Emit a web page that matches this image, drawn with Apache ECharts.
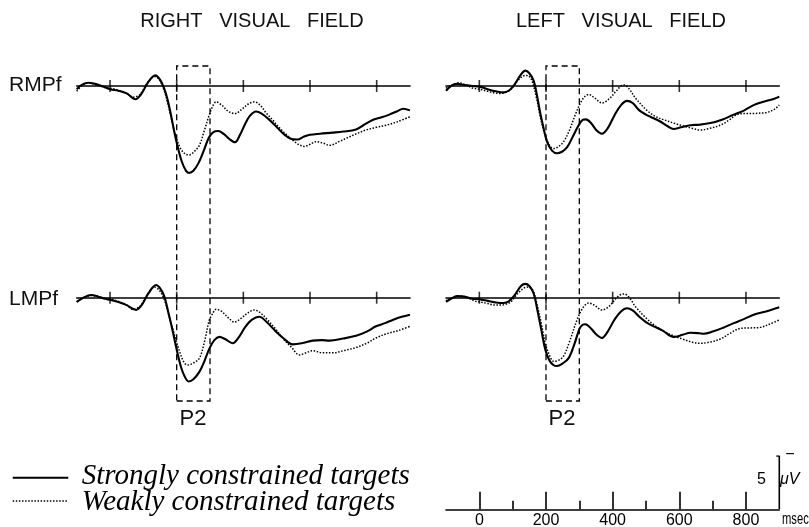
<!DOCTYPE html>
<html>
<head>
<meta charset="utf-8">
<script src="https://cdn.jsdelivr.net/npm/echarts@6/dist/echarts.min.js"></script>
<style>html,body{margin:0;padding:0;background:#fff}#c{width:809px;height:527px}</style>
</head>
<body>
<div id="c"></div>
<script>
// ---- Data: [time (ms), amplitude (µV, positive plotted downward)] ----
const rmpfRightStrong = [[-100,0.3],[-85,-0.1],[-65,-0.3],[-45,-0.2],[-25,0.0],[0,0.3],[25,0.45],[50,0.7],[76,1.25],[95,0.7],[115,-0.4],[136,-1.0],[150,-0.6],[162,0.2],[172,1.2],[182,2.6],[192,4.2],[202,5.6],[215,7.1],[228,8.0],[238,8.2],[250,8.0],[265,7.3],[280,6.2],[296,4.9],[310,4.35],[325,4.25],[340,4.5],[358,5.0],[375,5.3],[390,4.6],[405,3.6],[420,2.8],[438,2.4],[455,2.6],[475,3.1],[498,3.8],[520,4.5],[545,5.0],[563,5.05],[580,4.8],[600,4.6],[630,4.5],[668,4.4],[700,4.3],[738,4.1],[760,3.7],[788,3.2],[810,3.0],[838,2.7],[860,2.4],[880,2.15],[900,2.3]];
const rmpfRightWeak = [[-100,0.5],[-85,0.0],[-64,-0.3],[-45,-0.15],[-20,0.1],[0,0.2],[25,0.4],[50,0.7],[70,1.05],[90,0.8],[110,-0.2],[133,-0.9],[148,-0.6],[162,0.4],[172,1.5],[182,2.8],[195,4.5],[210,5.8],[225,6.4],[238,6.5],[252,6.2],[268,5.6],[282,4.3],[298,2.7],[308,1.9],[318,1.5],[335,1.8],[355,2.4],[375,2.6],[395,2.2],[415,1.7],[433,1.5],[450,1.8],[470,2.6],[488,3.2],[510,4.0],[530,4.6],[548,5.1],[565,5.5],[583,5.7],[600,5.5],[618,5.25],[640,5.4],[658,5.6],[690,5.2],[718,4.8],[740,4.5],[768,4.15],[800,3.9],[828,3.7],[860,3.4],[900,2.9]];
const rmpfLeftStrong = [[-100,0.45],[-85,0.0],[-67,-0.2],[-45,-0.1],[-20,0.0],[0,0.06],[25,0.3],[50,0.5],[73,0.6],[90,0.4],[105,-0.1],[125,-1.1],[138,-1.45],[150,-1.2],[163,-0.5],[173,0.9],[183,2.6],[193,4.0],[203,5.25],[218,6.1],[233,6.35],[248,6.2],[263,5.8],[280,4.8],[298,3.7],[310,3.2],[320,3.15],[335,3.5],[352,4.2],[368,4.5],[385,4.0],[405,2.8],[425,1.8],[443,1.4],[460,1.6],[480,2.3],[500,2.7],[513,2.9],[540,3.3],[565,3.8],[583,4.05],[605,3.9],[633,3.7],[660,3.65],[693,3.5],[730,3.15],[763,2.7],[795,2.3],[823,1.8],[845,1.55],[863,1.4],[885,1.2],[900,1.0]];
const rmpfLeftWeak = [[-100,0.2],[-82,-0.1],[-62,-0.3],[-40,-0.1],[-20,0.2],[0,0.3],[25,0.5],[45,0.65],[63,0.7],[80,0.6],[95,0.3],[115,-0.5],[138,-1.0],[150,-0.9],[160,-0.3],[172,1.2],[183,2.9],[193,4.2],[203,5.1],[213,5.7],[223,5.9],[238,5.7],[253,5.25],[270,4.2],[288,2.7],[305,1.5],[318,0.95],[328,0.8],[345,1.1],[368,1.6],[390,1.2],[410,0.5],[425,0.0],[435,-0.1],[450,0.3],[470,1.2],[503,2.3],[530,2.9],[555,3.2],[583,3.5],[610,3.75],[640,4.0],[663,4.15],[690,4.0],[723,3.7],[750,3.2],[773,2.7],[800,2.6],[823,2.6],[845,2.55],[863,2.5],[885,2.2],[900,1.8]];
const lmpfRightStrong = [[-100,0.4],[-80,0.0],[-57,-0.25],[-35,-0.1],[-15,0.1],[0,0.2],[25,0.4],[50,0.7],[78,1.16],[95,0.7],[115,-0.4],[138,-1.2],[150,-0.9],[163,-0.1],[175,1.4],[187,3.0],[198,4.6],[210,6.2],[222,7.3],[236,7.9],[250,7.7],[268,7.0],[283,6.0],[298,4.8],[313,4.0],[328,3.7],[345,3.9],[368,4.3],[385,3.8],[405,2.8],[425,2.1],[448,1.8],[470,2.3],[498,3.2],[523,3.9],[548,4.4],[575,4.3],[608,4.05],[635,4.0],[658,4.05],[700,3.85],[738,3.6],[770,3.2],[798,2.7],[825,2.4],[848,2.1],[875,1.8],[900,1.6]];
const lmpfRightWeak = [[-100,0.4],[-80,0.0],[-57,-0.2],[-35,-0.1],[-15,0.05],[0,0.1],[25,0.35],[50,0.7],[68,1.1],[90,0.8],[110,-0.2],[133,-1.0],[148,-0.7],[163,0.2],[175,1.5],[187,2.8],[198,4.0],[210,5.2],[222,6.1],[233,6.35],[248,6.2],[268,5.7],[283,4.2],[298,2.1],[308,1.5],[318,1.1],[335,1.3],[355,1.9],[373,2.3],[395,1.9],[415,1.4],[433,1.16],[450,1.4],[470,2.0],[498,3.0],[520,3.9],[545,4.7],[568,5.4],[588,5.2],[608,5.0],[638,5.2],[668,5.2],[700,5.0],[738,4.7],[770,4.3],[798,3.8],[830,3.4],[865,3.1],[900,2.7]];
const lmpfLeftStrong = [[-100,0.4],[-85,0.1],[-67,-0.15],[-45,-0.1],[-20,0.1],[0,0.15],[25,0.3],[50,0.45],[73,0.5],[88,0.35],[105,-0.2],[125,-1.1],[138,-1.3],[150,-1.1],[163,-0.4],[175,1.3],[187,3.2],[198,4.9],[210,5.9],[222,6.35],[233,6.45],[250,6.2],[268,5.7],[285,4.4],[301,2.9],[310,2.55],[318,2.5],[335,2.9],[352,3.5],[368,3.8],[385,3.2],[405,2.1],[425,1.3],[443,1.0],[460,1.2],[480,1.8],[500,2.3],[523,2.7],[550,3.1],[583,3.7],[610,3.5],[633,3.3],[660,3.35],[673,3.4],[700,3.2],[730,2.85],[763,2.4],[795,2.0],[823,1.6],[860,1.3],[900,0.9]];
const lmpfLeftWeak = [[-100,0.3],[-80,0.0],[-55,-0.15],[-35,0.0],[-15,0.3],[0,0.4],[25,0.55],[45,0.7],[63,0.7],[80,0.6],[95,0.4],[115,-0.4],[143,-1.0],[155,-0.9],[163,-0.55],[175,0.9],[187,2.6],[198,4.3],[210,5.4],[223,6.0],[238,5.9],[253,5.5],[270,4.2],[293,2.1],[310,1.0],[328,0.5],[345,0.7],[368,1.16],[390,0.8],[412,0.0],[425,-0.3],[435,-0.35],[450,0.0],[470,0.9],[503,2.0],[530,2.7],[555,3.2],[583,3.6],[610,3.9],[640,4.2],[663,4.3],[690,4.2],[723,3.9],[750,3.4],[783,2.9],[815,2.85],[843,2.8],[870,2.5],[900,2.1]];

const panelTicks = [0, 200, 400, 600, 800];
const majorTicks = [0, 200, 400, 600, 800];
const minorTicks = [100, 300, 500, 700];
const p2Window = [200, 300];
const calBar = [[900, 0], [900, 5], [891, 5]];
const timeRange = [-100, 900];
const seriesNames = ['Strongly constrained targets', 'Weakly constrained targets'];
const columnTitles = ['RIGHT   VISUAL   FIELD', 'LEFT   VISUAL   FIELD'];
const rowLabels = ['RMPf', 'LMPf'];

// ---- Layout ----
const colLeft = [76.7, 446];
const colWidth = 333.3;
const pxPerUV = 10.6;
const yMin = -4, yMax = 10;
const baselines = [86, 297.7];
const strongStyle = { color: '#000', width: 2.1 };
const weakStyle = { color: '#000', width: 1.5, type: [1.5, 1.6] };

const grids = [], xAxes = [], yAxes = [], series = [];
function addGrid(g, xa, ya) {
  g.outerBoundsMode = 'none';
  g.containLabel = false;
  grids.push(g);
  const gi = grids.length - 1;
  xa.gridIndex = gi; ya.gridIndex = gi;
  xAxes.push(xa); yAxes.push(ya);
  return xAxes.length - 1;
}
const hiddenX = () => ({ type: 'value', min: timeRange[0], max: timeRange[1], show: false });

const panels = [
  [rmpfRightStrong, rmpfRightWeak, 0, 0],
  [rmpfLeftStrong, rmpfLeftWeak, 1, 0],
  [lmpfRightStrong, lmpfRightWeak, 0, 1],
  [lmpfLeftStrong, lmpfLeftWeak, 1, 1]
];
panels.forEach(([strong, weak, col, row]) => {
  const top = baselines[row] + yMin * pxPerUV;
  const idx = addGrid(
    { left: colLeft[col], width: colWidth, top: top, height: (yMax - yMin) * pxPerUV },
    { type: 'value', min: timeRange[0], max: timeRange[1],
      axisLine: { show: true, onZero: true, lineStyle: { color: '#000', width: 1.6 } },
      axisTick: { show: false }, axisLabel: { show: false }, splitLine: { show: false } },
    { type: 'value', min: yMin, max: yMax, inverse: true, show: false, splitLine: { show: false } }
  );
  series.push({
    type: 'line', name: seriesNames[0], xAxisIndex: idx, yAxisIndex: idx, data: strong,
    smooth: 0.35, symbol: 'none', lineStyle: strongStyle, itemStyle: { color: '#000' }, z: 4
  });
  series.push({
    type: 'line', name: seriesNames[1], xAxisIndex: idx, yAxisIndex: idx, data: weak,
    smooth: 0.35, symbol: 'none', lineStyle: weakStyle, itemStyle: { color: '#000' }, z: 3
  });
  series.push({
    type: 'scatter', xAxisIndex: idx, yAxisIndex: idx, data: panelTicks.map(t => [t, 0]),
    symbol: 'rect', symbolSize: [1.6, 12], itemStyle: { color: '#000' }, silent: true, z: 5
  });
});

// P2 dashed windows spanning both rows
[0, 1].forEach(col => {
  const idx = addGrid(
    { left: colLeft[col], width: colWidth, top: 66, height: 335 },
    hiddenX(), { type: 'value', min: 0, max: 1, show: false }
  );
  series.push({
    type: 'line', xAxisIndex: idx, yAxisIndex: idx, data: [], symbol: 'none', silent: true,
    markArea: {
      silent: true,
      itemStyle: { color: 'rgba(0,0,0,0)', borderColor: '#000', borderWidth: 1.3, borderType: [6, 4] },
      data: [[{ xAxis: p2Window[0] }, { xAxis: p2Window[1] }]]
    }
  });
});

// Time scale axis with calibration bar
const sansFont = 'Liberation Sans, Arial, sans-serif';
const scaleIdx = addGrid(
  { left: colLeft[1], width: colWidth, top: 456, height: 53.3 },
  { type: 'value', min: timeRange[0], max: timeRange[1],
    axisLine: { show: true, onZero: false, lineStyle: { color: '#000', width: 1.6 } },
    axisTick: { show: true, inside: true, length: 17.6, customValues: majorTicks, lineStyle: { color: '#000', width: 1.6 } },
    axisLabel: { show: true, customValues: majorTicks, color: '#000', fontSize: 16, fontFamily: sansFont, margin: 3 },
    splitLine: { show: false } },
  { type: 'value', min: 0, max: 5, show: false }
);
addGrid(
  { left: colLeft[1], width: colWidth, top: 456, height: 53.3 },
  { type: 'value', min: timeRange[0], max: timeRange[1],
    axisLine: { show: false },
    axisTick: { show: true, inside: true, length: 8.6, customValues: minorTicks, lineStyle: { color: '#000', width: 1.6 } },
    axisLabel: { show: false }, splitLine: { show: false } },
  { type: 'value', min: 0, max: 5, show: false }
);
series.push({
  type: 'line', xAxisIndex: scaleIdx, yAxisIndex: scaleIdx, data: calBar, symbol: 'none', silent: true,
  lineStyle: { color: '#000', width: 1.6 }
});

const serifFont = "'Liberation Serif', 'Times New Roman', serif";
const graphic = [
  { type: 'text', x: 252, y: 21, style: { text: columnTitles[0], font: '20px ' + sansFont, fill: '#111', align: 'center', verticalAlign: 'middle' } },
  { type: 'text', x: 621, y: 21, style: { text: columnTitles[1], font: '20px ' + sansFont, fill: '#111', align: 'center', verticalAlign: 'middle' } },
  { type: 'text', x: 9, y: baselines[0] - 1, style: { text: rowLabels[0], font: '21px ' + sansFont, fill: '#111', align: 'left', verticalAlign: 'middle' } },
  { type: 'text', x: 9, y: baselines[1] + 1.5, style: { text: rowLabels[1], font: '21px ' + sansFont, fill: '#111', align: 'left', verticalAlign: 'middle' } },
  { type: 'text', x: 193, y: 419, style: { text: 'P2', font: '22px ' + sansFont, fill: '#111', align: 'center', verticalAlign: 'middle' } },
  { type: 'text', x: 562, y: 419, style: { text: 'P2', font: '22px ' + sansFont, fill: '#111', align: 'center', verticalAlign: 'middle' } },
  { type: 'text', x: 782, y: 520, scaleX: 0.7, style: { text: 'msec', font: '16px ' + sansFont, fill: '#000', align: 'left', verticalAlign: 'middle' } },
  { type: 'text', x: 766, y: 480, style: { text: '5', font: '16px ' + sansFont, fill: '#000', align: 'right', verticalAlign: 'middle' } },
  { type: 'text', x: 780, y: 480, style: { text: 'μV', font: 'italic 16px ' + sansFont, fill: '#000', align: 'left', verticalAlign: 'middle' } },
  { type: 'text', x: 790, y: 455, style: { text: '−', font: '16px ' + sansFont, fill: '#000', align: 'center', verticalAlign: 'middle' } },
  // legend
  { type: 'line', shape: { x1: 12.7, y1: 477.7, x2: 68.3, y2: 477.7 }, style: { stroke: '#000', lineWidth: strongStyle.width } },
  { type: 'line', shape: { x1: 12.7, y1: 501, x2: 68.3, y2: 501 }, style: { stroke: '#000', lineWidth: weakStyle.width, lineDash: weakStyle.type } },
  { type: 'text', x: 81.7, y: 476.5, style: { text: seriesNames[0], font: 'italic 29px ' + serifFont, fill: '#000', align: 'left', verticalAlign: 'middle' } },
  { type: 'text', x: 81.7, y: 502.5, style: { text: seriesNames[1], font: 'italic 29px ' + serifFont, fill: '#000', align: 'left', verticalAlign: 'middle' } }
];

const chart = echarts.init(document.getElementById('c'), null, { renderer: 'canvas' });
chart.setOption({
  animation: false,
  backgroundColor: '#fff',
  grid: grids,
  xAxis: xAxes,
  yAxis: yAxes,
  graphic: graphic,
  series: series
});
</script>
</body>
</html>
